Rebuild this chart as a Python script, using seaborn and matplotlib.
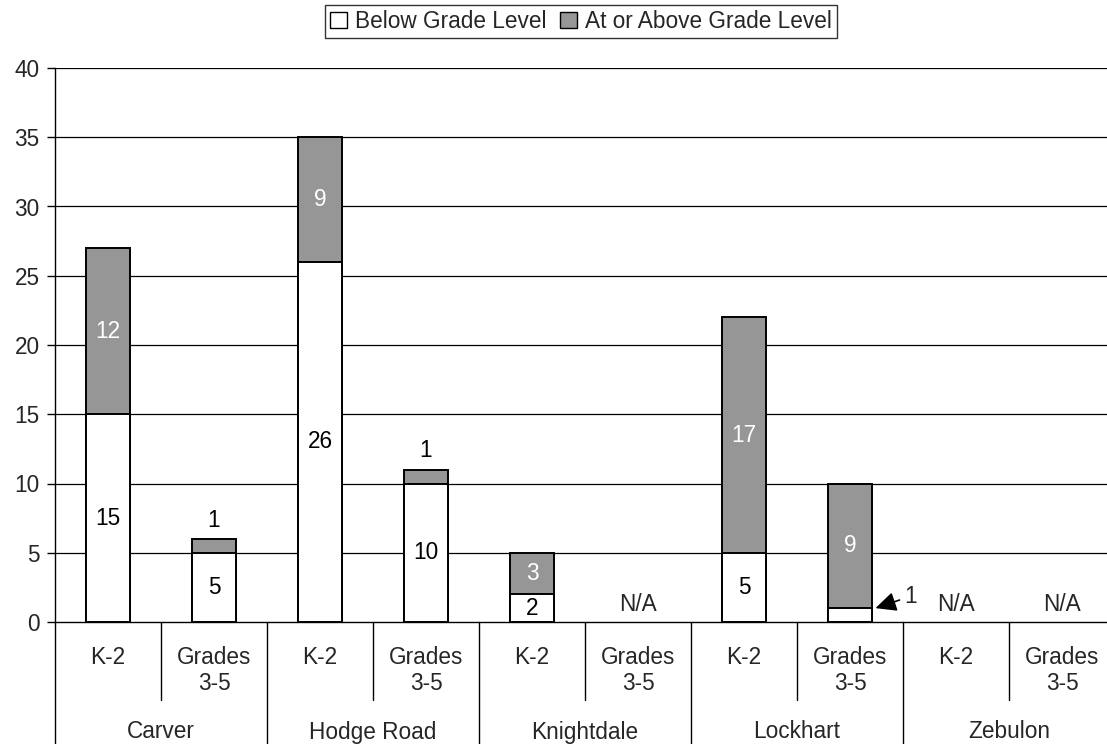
import numpy as np
import pandas as pd
import matplotlib
matplotlib.use("Agg")
import matplotlib.pyplot as plt
import seaborn as sns
from matplotlib.patches import Patch

# ---- data ----
schools = ["Carver", "Hodge Road", "Knightdale", "Lockhart", "Zebulon"]
grades = ["K-2", "Grades\n3-5"]
below = [15, 5, 26, 10, 2, np.nan, 5, 1, np.nan, np.nan]
above = [12, 1, 9, 1, 3, np.nan, 17, 9, np.nan, np.nan]
series_names = ["Below Grade Level", "At or Above Grade Level"]
yticks = [0, 5, 10, 15, 20, 25, 30, 35, 40]

sns.set_theme(style="white")
plt.rcParams["font.family"] = ["Liberation Sans", "DejaVu Sans"]
FS = 16.3

cats = [f"{s}|{g}" for s in schools for g in grades]
below_a = np.array(below, dtype=float)
above_a = np.array(above, dtype=float)
df = pd.DataFrame({"cat": cats, "below": below_a, "total": below_a + above_a})

W, H = 1107, 744
fig = plt.figure(figsize=(W / 100, H / 100), dpi=100)
ax = fig.add_axes([55 / W, (H - 622) / H, 1060 / W, 554 / H])

GRAY = "#969696"
sns.barplot(data=df, x="cat", y="total", order=cats, color=GRAY, saturation=1,
            width=0.41, edgecolor="black", linewidth=1.4, ax=ax, zorder=3)
sns.barplot(data=df, x="cat", y="below", order=cats, color="white", saturation=1,
            width=0.41, edgecolor="black", linewidth=1.4, ax=ax, zorder=4)

ax.set_xlim(-0.5, len(cats) - 0.5)
ax.set_ylim(0, 40)
ax.set_yticks(yticks)
ax.set_yticklabels([str(t) for t in yticks], fontsize=FS)
ax.set_xticks([])
ax.set_xlabel("")
ax.set_ylabel("")
for y in yticks[1:]:
    ax.axhline(y, color="black", lw=0.9, zorder=1)
for s in ["top", "right"]:
    ax.spines[s].set_visible(False)
for s in ["left", "bottom"]:
    ax.spines[s].set_color("black")
    ax.spines[s].set_linewidth(1.0)
ax.tick_params(axis="y", direction="out", length=6, width=1, color="black",
               left=True, pad=5)

# ---- data labels ----
for i in range(len(cats)):
    b, a = below_a[i], above_a[i]
    if np.isnan(b):
        ax.text(i, 1.25, "N/A", ha="center", va="center", fontsize=FS, zorder=6)
        continue
    if b >= 2:
        ax.text(i, b / 2, f"{int(b)}", ha="center", va="center", fontsize=FS,
                color="black", zorder=6)
    else:
        ax.annotate(f"{int(b)}", xy=(i + 0.24, b * 1.0), xytext=(i + 0.57, 1.85),
                    ha="center", va="center", fontsize=FS, zorder=6,
                    arrowprops=dict(arrowstyle="-|>,head_length=0.7,head_width=0.33",
                                    color="black", lw=1.2,
                                    shrinkA=1, shrinkB=0, mutation_scale=18))
    if a >= 2:
        ax.text(i, b + a / 2, f"{int(a)}", ha="center", va="center", fontsize=FS,
                color="white", zorder=6)
    else:
        ax.text(i, b + a + 1.35, f"{int(a)}", ha="center", va="center",
                fontsize=FS, color="black", zorder=6)

# ---- hierarchical category axis ----
def yf(pix):
    return (622 - pix) / 554

trans = ax.get_xaxis_transform()
n = len(cats)
for k in range(n + 1):
    x = k - 0.5
    bottom = 760 if k % len(grades) == 0 else 700
    ax.plot([x, x], [0, yf(bottom)], color="black", lw=1, transform=trans,
            clip_on=False)
for i, c in enumerate(cats):
    g = grades[i % len(grades)].split("\n")
    for j, line in enumerate(g):
        ax.text(i, yf(657 + 26 * j), line, ha="center", va="center",
                fontsize=FS, transform=trans, clip_on=False)
for k, s in enumerate(schools):
    ax.text(k * 2 + 0.5, yf(732), s, ha="center", va="center", fontsize=FS,
            transform=trans, clip_on=False)

# ---- legend ----
handles = [Patch(facecolor="white", edgecolor="black", lw=1),
           Patch(facecolor=GRAY, edgecolor="black", lw=1)]
leg = fig.legend(handles, series_names, loc="upper center", ncol=2,
                 bbox_to_anchor=(581 / W, 1 - 5 / H), fontsize=FS,
                 frameon=True, fancybox=False, edgecolor="black",
                 handlelength=0.75, handleheight=0.75, handletextpad=0.35,
                 columnspacing=0.6, borderpad=0.22, borderaxespad=0)
leg.get_frame().set_linewidth(1.0)

fig.savefig("out.png", dpi=100)
